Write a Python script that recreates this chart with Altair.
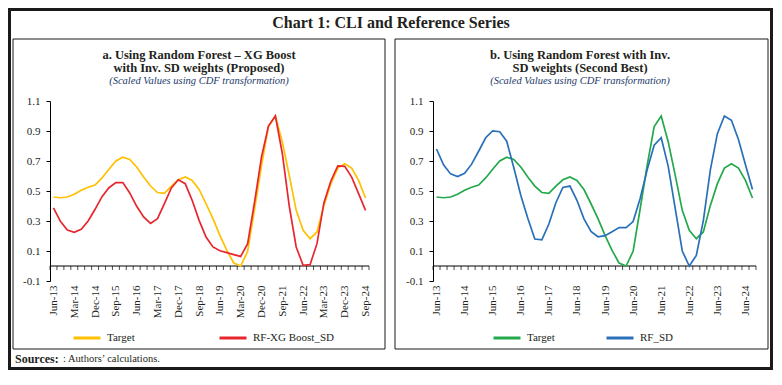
import altair as alt
import pandas as pd

# ---------------- data ----------------
months = ["Mar", "Jun", "Sep", "Dec"]
quarters = [f"{months[(1 + i) % 4]}-{13 + (1 + i) // 4:02d}" for i in range(46)]  # Jun-13 .. Sep-24

target = [0.46, 0.455, 0.46, 0.478, 0.505, 0.525, 0.54, 0.587, 0.645, 0.70,
          0.725, 0.71, 0.66, 0.593, 0.533, 0.49, 0.484, 0.533, 0.575, 0.593,
          0.57, 0.51, 0.415, 0.316, 0.204, 0.104, 0.02, 0.0, 0.098, 0.38,
          0.67, 0.93, 1.0, 0.827, 0.604, 0.371, 0.238, 0.182, 0.227, 0.404,
          0.549, 0.653, 0.682, 0.653, 0.571, 0.453]

rf_xgb_sd = [0.387, 0.298, 0.24, 0.224, 0.244, 0.30, 0.378, 0.462, 0.522, 0.556,
             0.556, 0.487, 0.398, 0.327, 0.284, 0.316, 0.416, 0.52, 0.575, 0.549,
             0.438, 0.304, 0.193, 0.127, 0.102, 0.089, 0.076, 0.064, 0.149, 0.427,
             0.727, 0.933, 1.0, 0.75, 0.40, 0.127, 0.004, 0.009, 0.149, 0.422,
             0.567, 0.667, 0.664, 0.593, 0.482, 0.371]

rf_sd = [0.78, 0.675, 0.614, 0.596, 0.618, 0.679, 0.765, 0.855, 0.9, 0.895,
         0.832, 0.657, 0.472, 0.319, 0.18, 0.175, 0.28, 0.422, 0.524, 0.533,
         0.438, 0.314, 0.23, 0.195, 0.202, 0.229, 0.256, 0.256, 0.296, 0.45,
         0.641, 0.805, 0.855, 0.664, 0.382, 0.10, 0.0, 0.071, 0.303, 0.641,
         0.882, 1.0, 0.972, 0.844, 0.675, 0.51]

y_ticks = [-0.1, 0.1, 0.3, 0.5, 0.7, 0.9, 1.1]

main_title = "Chart 1: CLI and Reference Series"
title_a = ["a. Using Random Forest \u2013 XG Boost", "with Inv. SD weights (Proposed)"]
title_b = ["b. Using Random Forest with Inv.", "SD weights (Second Best)"]
subtitle = "(Scaled Values using CDF transformation)"
source_bold = "Sources:"
source_text = ": Authors\u2019 calculations."

# ---------------- style ----------------
SERIF = "Liberation Serif"
INK = "#231f20"
NAVY = "#243a6b"
H = 180
W_A, W_B = 319, 323
GAP = 64

label_expr = "[" + ",".join(f"'{q}'" for q in quarters) + "][datum.value]"
ylab_expr = "replace(format(datum.value, '.1f'), '\u2212', '-')"


def text_layer(txt, x, y, size, weight="normal", style="normal", color=INK, align="center"):
    return alt.Chart(pd.DataFrame({"t": [txt]})).mark_text(
        font=SERIF, fontSize=size, fontWeight=weight, fontStyle=style, color=color,
        align=align, baseline="middle"
    ).encode(text="t:N", x=alt.value(x), y=alt.value(y))


def frame_layer(x, x2, y, y2, sw):
    return alt.Chart(pd.DataFrame({"k": [0]})).mark_rect(
        fillOpacity=0, stroke="#1a1a1a", strokeWidth=sw
    ).encode(x=alt.value(x), x2=alt.value(x2), y=alt.value(y), y2=alt.value(y2))


def panel(name, vals, tcolor, scolor, width, step, titles, legend_x, col_pad, extra):
    df = pd.DataFrame({
        "i": list(range(46)) * 2,
        "v": target + vals,
        "s": ["Target"] * 46 + [name] * 46,
    })
    xs = alt.Scale(domain=[-0.5, 45.5], nice=False, zero=False)
    ys = alt.Scale(domain=[-0.1, 1.1], nice=False, zero=False)
    xaxis = alt.Axis(
        values=list(range(0, 46, step)), labelExpr=label_expr, labelAngle=-90,
        ticks=False, domain=False, grid=False, labelPadding=4, labelOverlap=False,
        labelFont=SERIF, labelFontSize=11, labelColor=INK, title=None)
    yaxis = alt.Axis(
        values=y_ticks, labelExpr=ylab_expr, tickSize=4, tickColor="black",
        domainColor="black", grid=False, labelPadding=6, labelFont=SERIF,
        labelOverlap=False, labelFontSize=11, labelColor=INK, title=None)

    lines = alt.Chart(df).mark_line(strokeWidth=1.7).encode(
        x=alt.X("i:Q", scale=xs, axis=xaxis),
        y=alt.Y("v:Q", scale=ys, axis=yaxis),
        color=alt.Color("s:N", scale=alt.Scale(domain=["Target", name], range=[tcolor, scolor]),
                        legend=alt.Legend(orient="none", legendX=legend_x, legendY=222,
                                          direction="horizontal", symbolType="stroke",
                                          symbolSize=729, symbolStrokeWidth=3, title=None,
                                          padding=0, columnPadding=col_pad, labelOffset=5,
                                          labelFont=SERIF, labelFontSize=11, labelColor=INK)),
    )

    axis_line = alt.Chart(pd.DataFrame({"a": [-0.5], "b": [45.5], "y": [0.0]})).mark_rule(
        color="black", strokeWidth=1).encode(
        x=alt.X("a:Q", scale=xs, axis=xaxis), x2="b:Q", y=alt.Y("y:Q", scale=ys, axis=yaxis))
    ticks = alt.Chart(pd.DataFrame({"b": [k - 0.5 for k in range(47)], "y": [0.0] * 47})).mark_tick(
        orient="vertical", size=4, thickness=1, yOffset=2, color="black").encode(
        x=alt.X("b:Q", scale=xs, axis=xaxis), y=alt.Y("y:Q", scale=ys, axis=yaxis))

    layers = [frame_layer(-37 if extra else -38, width + 16 if extra else width + 12, -62, 248, 1)]
    if extra:
        layers.append(frame_layer(-40.5, 721.5, -91.5, 267.5, 3))
        layers.append(text_layer(main_title, 341, -78, 16, weight="bold"))
        layers.append(text_layer(source_bold, -35, 258, 12, weight="bold", align="left"))
        layers.append(text_layer(source_text, 13, 258, 10.5, align="left"))
    cx = 149 if extra else 147
    layers += [
        text_layer(titles[0], cx, -46, 12.5, weight="bold"),
        text_layer(titles[1], cx, -33.5, 12.5, weight="bold"),
        text_layer(subtitle, cx, -20.5, 10.5, style="italic", color=NAVY),
        axis_line, ticks, lines,
    ]
    return alt.layer(*layers).properties(width=width, height=H)


pa = panel("RF-XG Boost_SD", rf_xgb_sd, "#FFC000", "#E8262E", W_A, 3, title_a, 22, 78, True)
pb = panel("RF_SD", rf_sd, "#23A94B", "#2A70B8", W_B, 4, title_b, 59, 45, False)

chart = alt.HConcatChart(hconcat=[pa, pb], spacing=GAP, bounds="flush").resolve_scale(
    color="independent", x="independent", y="independent"
).properties(padding=0, background="white").configure_view(stroke=None)

chart.save("out.html", embed_options={"renderer": "svg", "actions": False})
